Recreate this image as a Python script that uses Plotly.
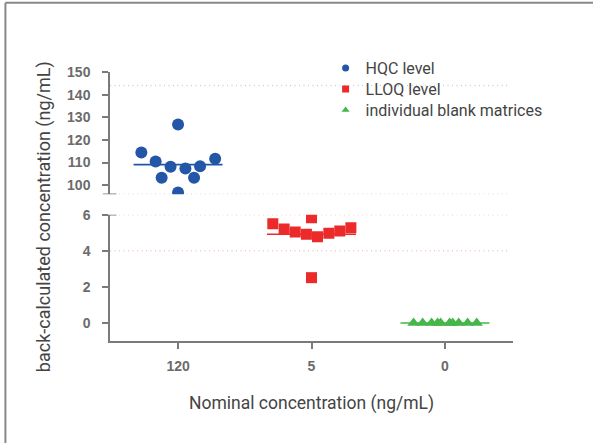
import plotly.graph_objects as go

# Nominal concentration categories (x positions 0, 1, 2)
categories = ["120", "5", "0"]

# HQC level, back-calculated (ng/mL), with swarm offsets
hqc_values = [114.5, 110.5, 103.3, 108.2, 126.8, 96.8, 107.4, 103.3, 108.4, 111.7]
hqc_offset = [-0.275, -0.168, -0.123, -0.056, 0.0, 0.0, 0.055, 0.12, 0.165, 0.278]

# LLOQ level
lloq_values = [5.50, 5.21, 5.04, 4.91, 5.83, 2.51, 4.78, 4.97, 5.10, 5.28]
lloq_offset = [-0.29, -0.205, -0.122, -0.038, 0.0, 0.0, 0.045, 0.13, 0.212, 0.295]

# individual blank matrices
blank_values = [0, 0, 0, 0, 0, 0, 0, 0, 0, 0]
blank_offset = [-0.235, -0.167, -0.1, -0.055, -0.032, 0.035, 0.058, 0.103, 0.17, 0.238]

# acceptance limits (+/-20% of nominal)
hqc_limits = [96, 144]
lloq_limits = [4, 6]

BLUE = "#2356a6"
RED = "#ec2a2a"
GREEN = "#45b64a"
AXIS = "#7a7a7a"
TEXT = "#444444"

fig = go.Figure()

groups = [
    (0, hqc_values, hqc_offset, BLUE, "circle", 12, "y2", "HQC level", "legend"),
    (1, lloq_values, lloq_offset, RED, "square", 11, "y", "LLOQ level", "legend2"),
    (2, blank_values, blank_offset, GREEN, "triangle-up", 11, "y",
     "individual blank matrices", "legend3"),
]

# mean lines first so the markers sit on top
for pos, vals, offs, color, symbol, size, yax, name, leg in groups:
    mean = sum(vals) / len(vals)
    fig.add_trace(go.Scatter(
        x=[pos - 1 / 3, pos + 1 / 3], y=[mean, mean], mode="lines",
        line=dict(color=color, width=1.6), yaxis=yax, showlegend=False,
        hoverinfo="skip"))

for pos, vals, offs, color, symbol, size, yax, name, leg in groups:
    fig.add_trace(go.Scatter(
        x=[pos + o for o in offs], y=vals, mode="markers",
        marker=dict(color=color, symbol=symbol, size=size),
        yaxis=yax, showlegend=False, name=name))

# small legend-only markers, one legend per row so the spacing can be set
for pos, vals, offs, color, symbol, size, yax, name, leg in groups:
    fig.add_trace(go.Scatter(
        x=[None], y=[None], mode="markers", name=name, legend=leg,
        marker=dict(color=color, symbol=symbol, size=7), yaxis=yax))

shapes = []
for v in hqc_limits:
    shapes.append(dict(type="line", xref="x", yref="y2", x0=-0.51, x1=2.48, y0=v, y1=v,
                       line=dict(color="#c3d0ea", width=1.5, dash="1px,3.5px"), layer="below"))
for v in lloq_limits:
    shapes.append(dict(type="line", xref="x", yref="y", x0=-0.51, x1=2.48, y0=v, y1=v,
                       line=dict(color="#f6c4c4", width=1.5, dash="1px,3.5px"), layer="below"))
# axis break marks
shapes.append(dict(type="line", xref="paper", yref="y2", x0=-0.018, x1=0.016, y0=96, y1=96,
                   line=dict(color=AXIS, width=1.5)))
shapes.append(dict(type="line", xref="paper", yref="y", x0=-0.018, x1=0.016, y0=6, y1=6,
                   line=dict(color=AXIS, width=1.5)))
# outer frame (left and top)
shapes.append(dict(type="line", xref="paper", yref="paper", x0=-0.2595, x1=-0.2595,
                   y0=1.257, y1=-0.45, line=dict(color="#888888", width=2)))
shapes.append(dict(type="line", xref="paper", yref="paper", x0=-0.2595, x1=1.2,
                   y0=1.257, y1=1.257, line=dict(color="#888888", width=2)))

tickfont = dict(family="Liberation Sans, Arial", size=14, color="#6b6b6b", weight="bold")
legend_style = dict(x=0.535, xanchor="left", yanchor="middle",
                    font=dict(family="Roboto", size=16, color=TEXT),
                    bgcolor="rgba(0,0,0,0)")

fig.update_layout(
    width=593, height=443,
    margin=dict(l=110, r=80, t=72, b=102),
    paper_bgcolor="white", plot_bgcolor="white",
    shapes=shapes,
    xaxis=dict(
        range=[-0.51, 2.51], tickvals=[0, 1, 2], ticktext=categories,
        tickfont=tickfont, ticks="outside", ticklen=6, tickcolor=AXIS, tickwidth=1.5,
        ticklabelstandoff=5,
        showline=True, linecolor=AXIS, linewidth=1.5, showgrid=False, zeroline=False,
        anchor="y",
    ),
    yaxis=dict(
        domain=[0, 0.4695], range=[-1, 6], tickvals=[0, 2, 4, 6],
        tickfont=tickfont, ticks="outside", ticklen=6, tickcolor=AXIS, tickwidth=1.5,
        ticklabelstandoff=9,
        showline=True, linecolor=AXIS, linewidth=1.5, showgrid=False, zeroline=False,
    ),
    yaxis2=dict(
        domain=[0.5454, 1], range=[96, 150], tickvals=[100, 110, 120, 130, 140, 150],
        tickfont=tickfont, ticks="outside", ticklen=6, tickcolor=AXIS, tickwidth=1.5,
        ticklabelstandoff=9,
        showline=True, linecolor=AXIS, linewidth=1.5, showgrid=False, zeroline=False,
        anchor="x",
    ),
    legend=dict(y=1.0149, **legend_style),
    legend2=dict(y=0.9368, **legend_style),
    legend3=dict(y=0.8587, **legend_style),
    annotations=[
        dict(text="back-calculated concentration (ng/mL)", textangle=-90,
             xref="paper", yref="paper", x=-0.162, y=0.463, xanchor="center", yanchor="middle",
             showarrow=False, font=dict(family="Roboto", size=18, color=TEXT)),
        dict(text="Nominal concentration (ng/mL)",
             xref="paper", yref="paper", x=0.5, y=-0.2305, xanchor="center", yanchor="middle",
             showarrow=False, font=dict(family="Roboto", size=17.5, color=TEXT)),
    ],
    hovermode="closest",
)

fig.write_html("out.html", config={"displayModeBar": False},
               post_script="document.body.style.margin='0px';"
                           "document.body.style.overflow='hidden';"
                           "document.documentElement.style.overflow='hidden';")
